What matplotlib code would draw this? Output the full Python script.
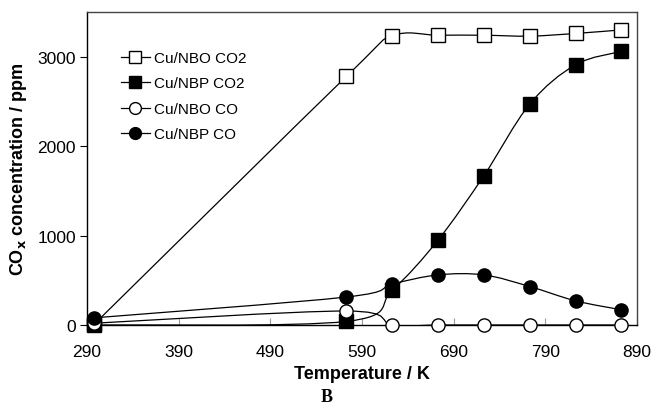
import numpy as np
import matplotlib
matplotlib.use("Agg")
import matplotlib.pyplot as plt
from matplotlib.path import Path
from matplotlib.patches import PathPatch
from matplotlib.lines import Line2D

plt.rcParams['font.family'] = ['Liberation Sans', 'DejaVu Sans']

temperature = [298, 573, 623, 673, 723, 773, 823, 873]
nbo_co2 = [10, 2780, 3230, 3240, 3240, 3230, 3260, 3300]
nbp_co2 = [0, 40, 390, 950, 1670, 2470, 2910, 3060]
nbo_co = [20, 156, 0, 0, 0, 0, 0, 0]
nbp_co = [80, 313, 458, 560, 560, 430, 270, 170]

x_ticks = [290, 390, 490, 590, 690, 790, 890]
y_ticks = [0, 1000, 2000, 3000]

series = [
    ("Cu/NBO CO2", nbo_co2, 's', 'white'),
    ("Cu/NBP CO2", nbp_co2, 's', 'black'),
    ("Cu/NBO CO", nbo_co, 'o', 'white'),
    ("Cu/NBP CO", nbp_co, 'o', 'black'),
]


def smooth_path(xs, ys):
    xs = np.asarray(xs, float)
    ys = np.asarray(ys, float)
    n = len(xs)
    verts = [(xs[0], ys[0])]
    codes = [Path.MOVETO]
    for i in range(n - 1):
        i0 = max(i - 1, 0)
        i3 = min(i + 2, n - 1)
        c1 = (xs[i] + (xs[i + 1] - xs[i0]) / 6.0, ys[i] + (ys[i + 1] - ys[i0]) / 6.0)
        c2 = (xs[i + 1] - (xs[i3] - xs[i]) / 6.0, ys[i + 1] - (ys[i3] - ys[i]) / 6.0)
        verts += [c1, c2, (xs[i + 1], ys[i + 1])]
        codes += [Path.CURVE4] * 3
    return Path(verts, codes)


fig = plt.figure(figsize=(6.54, 4.14), dpi=100)
ax = fig.add_axes([0.133, 0.2126, 0.841, 0.756])

handles = []
for label, vals, mk, fc in series:
    ax.add_patch(PathPatch(smooth_path(temperature, vals), facecolor='none',
                           edgecolor='black', lw=0.9, zorder=2))
    ax.plot(temperature, vals, linestyle='none', marker=mk, markersize=9.5,
            markerfacecolor=fc, markeredgecolor='black', markeredgewidth=1.0,
            zorder=3, clip_on=False)
    handles.append(Line2D([], [], color='black', lw=0.9, marker=mk, markersize=8.5,
                          markerfacecolor=fc, markeredgecolor='black',
                          markeredgewidth=1.0, label=label))

ax.set_xlim(290, 890)
ax.set_ylim(0, 3500)
ax.set_xticks(x_ticks)
ax.set_yticks(y_ticks)
ax.tick_params(axis='x', direction='in', length=5, color='#999999', labelsize=12.5, pad=14)
ax.tick_params(axis='y', direction='out', length=5, labelsize=12.5, pad=3)
for s in ax.spines.values():
    s.set_linewidth(1.0)
ax.spines['top'].set_color('#444444')
ax.spines['right'].set_color('#444444')

ax.set_xlabel('Temperature / K', fontsize=13, fontweight='bold', labelpad=4)
ax.set_ylabel(r'CO$_\mathbf{x}$ concentration / ppm', fontsize=13, fontweight='bold', labelpad=6)

leg = ax.legend(handles=handles, loc='upper left', bbox_to_anchor=(0.05, 0.895),
                frameon=False, fontsize=11, handlelength=1.9, handletextpad=0.3,
                labelspacing=0.75, borderaxespad=0)

fig.text(0.5, 0.04, 'B', fontsize=13, fontweight='bold', family='Liberation Serif',
         ha='center', va='center')

fig.savefig('out.png', dpi=100)
